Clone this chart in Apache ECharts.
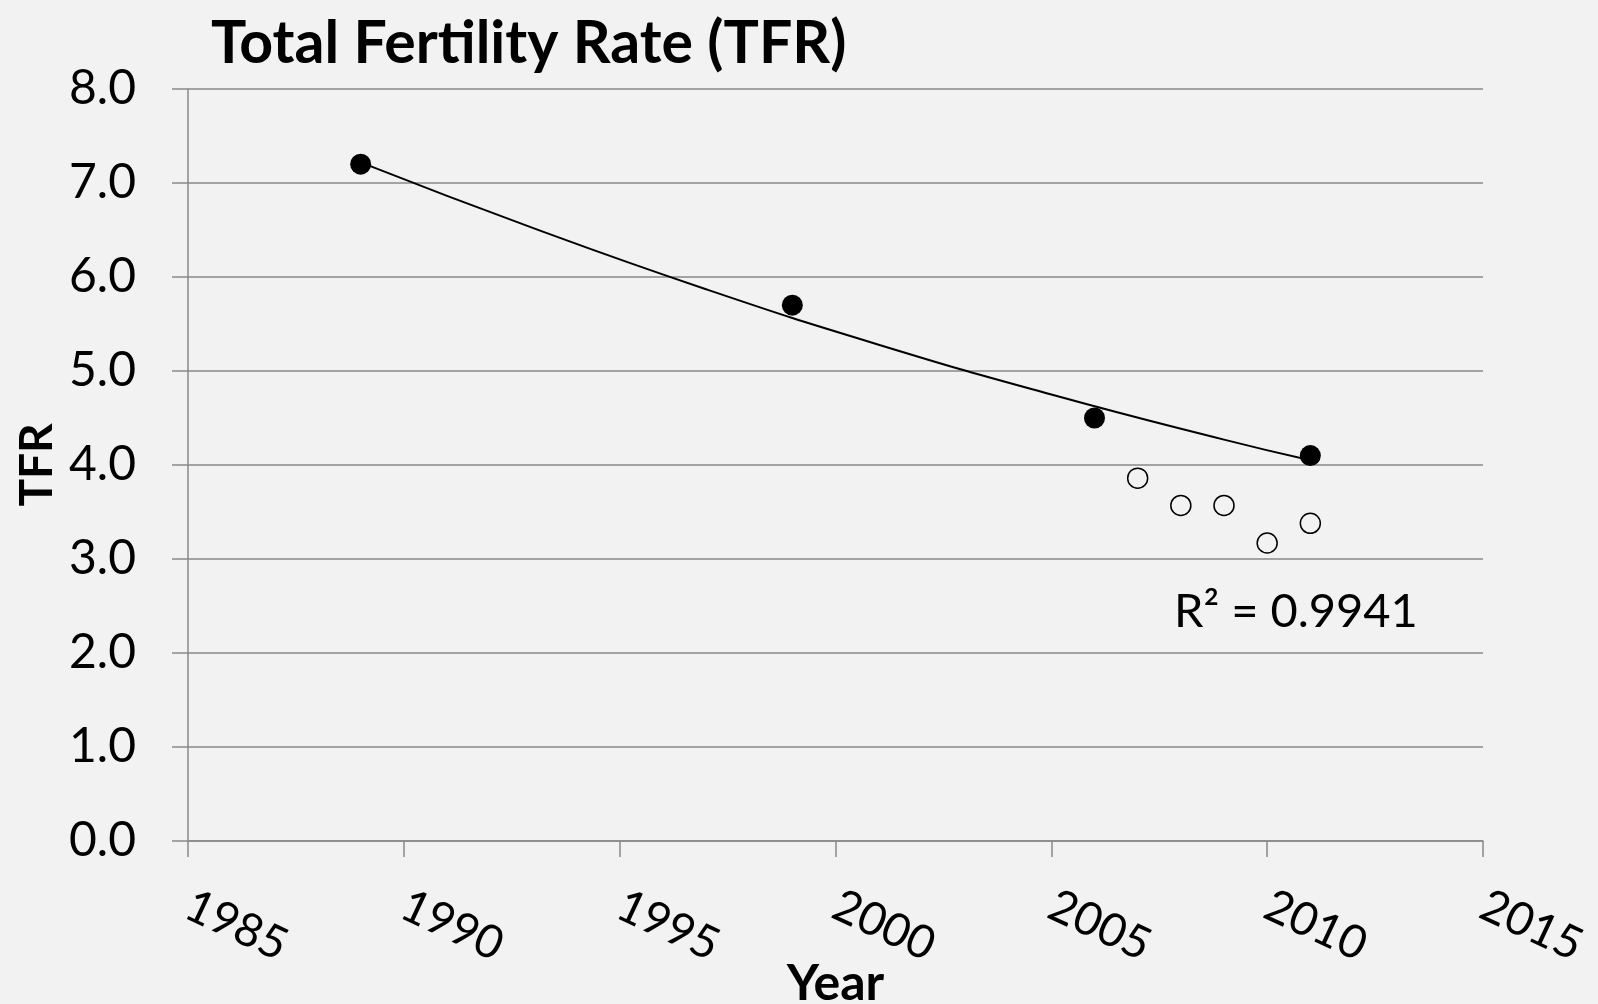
<!DOCTYPE html>
<html>
<head>
<meta charset="utf-8">
<style>
  html, body { margin: 0; padding: 0; background: #f2f2f2; }
  #chart { width: 1598px; height: 1004px; }
</style>
<script src="https://cdn.jsdelivr.net/npm/echarts@6/dist/echarts.min.js"></script>
</head>
<body>
<div id="chart"></div>
<script>
// survey estimates (filled) and annual estimates (open)
const surveyYears = [1989, 1999, 2006, 2011]
const surveyTfr = [7.2, 5.7, 4.5, 4.1]
const annualYears = [2007, 2008, 2009, 2010, 2011]
const annualTfr = [3.86, 3.57, 3.57, 3.17, 3.38]
// exponential trendline
const trendYears = [1989, 1993, 1997, 2001, 2005, 2009, 2011]
const trendTfr = [7.22, 6.52, 5.87, 5.28, 4.75, 4.27, 4.05]
const yTicks = [0, 1, 2, 3, 4, 5, 6, 7, 8]
const rSquared = 'R² = 0.9941'

const font = 'Lato'
const gray = '#898989'

const chart = echarts.init(document.getElementById('chart'))

function pairs(xs, ys) {
  return xs.map((x, i) => [x, ys[i]])
}

chart.setOption({
  backgroundColor: '#f2f2f2',
  animation: false,
  textStyle: { fontFamily: font, color: '#000' },
  title: {
    text: 'Total Fertility Rate (TFR)',
    left: 206,
    top: 9,
    textStyle: { fontFamily: font, fontSize: 59, fontWeight: 'bold', color: '#000' }
  },
  grid: {
    left: 188,
    right: 115,
    top: 89,
    bottom: 163,
    outerBoundsMode: 'none'
  },
  xAxis: {
    type: 'value',
    min: 1985,
    max: 2015,
    interval: 5,
    name: 'Year',
    nameLocation: 'middle',
    nameGap: 118,
    nameMoveOverlap: false,
    nameTextStyle: { fontFamily: font, fontSize: 50, fontWeight: 'bold', color: '#000' },
    axisLine: { show: true, lineStyle: { color: gray, width: 1.5 } },
    axisTick: { show: true, length: 16, lineStyle: { color: gray, width: 1.5 } },
    splitLine: { show: false },
    axisLabel: {
      rotate: -25,
      margin: 62,
      fontSize: 46,
      color: '#000',
      fontFamily: font,
      formatter: v => String(v)
    }
  },
  yAxis: {
    type: 'value',
    min: yTicks[0],
    max: yTicks[yTicks.length - 1],
    interval: 1,
    name: 'TFR',
    nameLocation: 'middle',
    nameGap: 128,
    nameMoveOverlap: false,
    nameTextStyle: { fontFamily: font, fontSize: 46, fontWeight: 'bold', color: '#000' },
    axisLine: { show: true, lineStyle: { color: gray, width: 1.5 } },
    axisTick: { show: true, length: 16, lineStyle: { color: gray, width: 1.5 } },
    splitLine: { show: true, lineStyle: { color: gray, width: 1.5 } },
    axisLabel: {
      margin: 52,
      fontSize: 48,
      color: '#000',
      fontFamily: font,
      formatter: v => v.toFixed(1)
    }
  },
  series: [
    {
      name: 'trend',
      type: 'line',
      data: pairs(trendYears, trendTfr),
      smooth: true,
      showSymbol: false,
      lineStyle: { color: '#000', width: 2 },
      z: 1
    },
    {
      name: 'survey',
      type: 'scatter',
      data: pairs(surveyYears, surveyTfr),
      symbol: 'circle',
      symbolSize: 21,
      itemStyle: { color: '#000', opacity: 1 },
      z: 3
    },
    {
      name: 'annual',
      type: 'scatter',
      data: pairs(annualYears, annualTfr),
      symbol: 'circle',
      symbolSize: 20,
      itemStyle: { color: '#f2f2f2', borderColor: '#000', borderWidth: 1.5, opacity: 1 },
      z: 3
    }
  ],
  graphic: [
    {
      type: 'text',
      left: 1174,
      top: 588,
      style: { text: rSquared, font: '47px ' + font, fill: '#000' }
    }
  ]
})
</script>
</body>
</html>
